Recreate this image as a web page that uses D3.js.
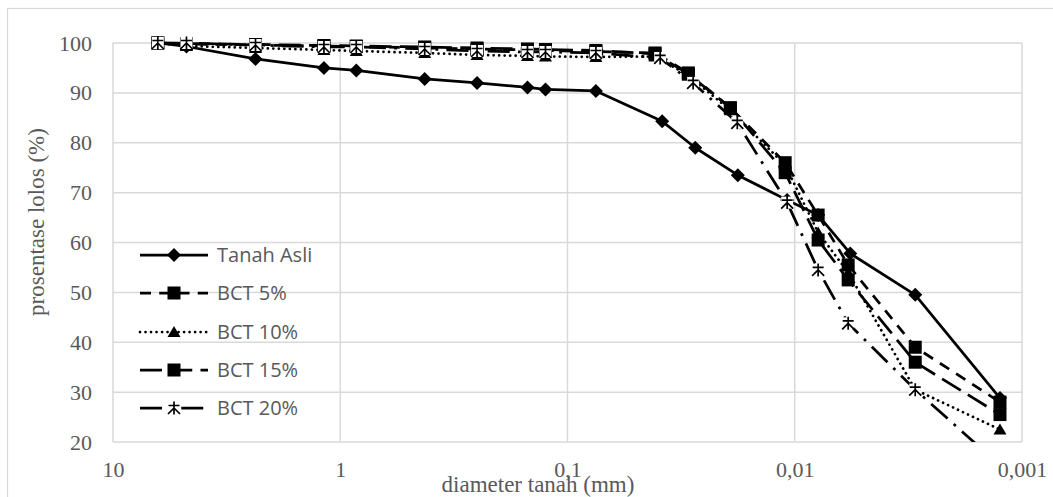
<!DOCTYPE html>
<html><head><meta charset="utf-8">
<script src="https://cdn.jsdelivr.net/npm/d3@7"></script>
<style>html,body{margin:0;padding:0;background:#fff;} svg{display:block}</style>
</head><body>
<svg id="chart" width="1053" height="497"></svg>
<script>
// ---------- DATA ----------
const sieveDiam = [6.35, 4.75, 2.36, 1.18, 0.85, 0.425, 0.25, 0.15, 0.125, 0.075];
const tanahAsliHydroDiam = [0.0383, 0.0274, 0.0178, 0.0108, 0.00789, 0.0057, 0.00295, 0.00125];
const bctHydroDiam = [0.0412, 0.0294, 0.0192, 0.01102, 0.00789, 0.00582, 0.00295, 0.00125];
const bct20HydroDiam = [0.0391, 0.0280, 0.0179, 0.0108, 0.00789, 0.00582, 0.00295, 0.00125];

const tanahAsli = [100, 99.3, 96.8, 95, 94.5, 92.8, 92, 91.1, 90.7, 90.4, 84.3, 79, 73.5, 68.5, 65.5, 57.8, 49.5, 28.8];
const bct5  = [100, 99.8, 99.6, 99.4, 99.3, 99.0, 98.8, 98.6, 98.5, 98.3, 98, 94, 87, 76, 65.5, 55.5, 39, 28];
const bct10 = [100, 99.4, 99.0, 98.6, 98.4, 98.0, 97.6, 97.4, 97.3, 97.2, 97.3, 93.5, 86.5, 75.5, 62, 54, 30.5, 22.5];
const bct15 = [100, 99.9, 99.7, 99.5, 99.4, 99.2, 99.0, 98.8, 98.7, 98.5, 97.8, 93.8, 87, 74, 60.5, 52.5, 36, 25.5];
const bct20 = [100, 100, 99.6, 99.2, 99.2, 98.8, 98.4, 98.2, 98.2, 98.0, 97, 92, 84, 68, 54.5, 43.8, 30.5, 15.3];

const seriesNames = ["Tanah Asli", "BCT 5%", "BCT 10%", "BCT 15%", "BCT 20%"];
const yTicks = [20, 30, 40, 50, 60, 70, 80, 90, 100];
const xTicks = [10, 1, 0.1, 0.01, 0.001];
const xTickLabels = ["10", "1", "0,1", "0,01", "0,001"];
const xTitle = "diameter tanah (mm)";
const yTitle = "prosentase lolos (%)";

// ---------- BUILD ----------
(function () {
const lw = 2.75;
const styles = [
  {marker: "diamond", dash: null},
  {marker: "square", dash: `${4*lw},${3*lw}`},
  {marker: "triangle", dash: `0.01,${2*lw}`, cap: "round"},
  {marker: "square", dash: `${8*lw},${3*lw}`},
  {marker: "star", dash: `${8*lw},${3*lw},${lw},${3*lw}`}
];
const seriesValues = [tanahAsli, bct5, bct10, bct15, bct20];
const seriesDiam = [
  sieveDiam.concat(tanahAsliHydroDiam),
  sieveDiam.concat(bctHydroDiam),
  sieveDiam.concat(bctHydroDiam),
  sieveDiam.concat(bctHydroDiam),
  sieveDiam.concat(bct20HydroDiam)
];
const series = seriesNames.map((name, i) => ({
  name, style: styles[i],
  points: seriesValues[i].map((v, j) => ({d: seriesDiam[i][j], v}))
}));

const svg = d3.select("#chart");
const pLeft = 113, pRight = 1022, pTop = 43, pBottom = 442;
const x = d3.scaleLog().domain([10, 0.001]).range([pLeft, pRight]);
const y = d3.scaleLinear().domain([20, 100]).range([pBottom, pTop]);

// outer chart border
svg.append("rect").attr("x", 7.5).attr("y", 8.5).attr("width", 1100).attr("height", 600)
  .attr("fill", "none").attr("stroke", "#d9d9d9").attr("stroke-width", 1.3);

// gridlines
const grid = svg.append("g");
grid.selectAll("line.h").data(yTicks).join("line").attr("class", "h")
  .attr("x1", pLeft).attr("x2", pRight).attr("y1", d => y(d)).attr("y2", d => y(d))
  .attr("stroke", "#d9d9d9").attr("stroke-width", 1.5);
grid.selectAll("line.v").data(xTicks).join("line").attr("class", "v")
  .attr("y1", pTop).attr("y2", pBottom).attr("x1", d => x(d)).attr("x2", d => x(d))
  .attr("stroke", "#d9d9d9").attr("stroke-width", 1.5);

// axes via d3 axis generators (labels only)
const yAxis = svg.append("g").attr("transform", `translate(${pLeft},0)`)
  .call(d3.axisLeft(y).tickValues(yTicks).tickSize(0).tickPadding(21).tickFormat(d3.format("d")));
const xAxis = svg.append("g").attr("transform", `translate(0,${pBottom})`)
  .call(d3.axisBottom(x).tickValues(xTicks).tickSize(0).tickPadding(21).tickFormat((d, i) => xTickLabels[i]));
[yAxis, xAxis].forEach(a => {
  a.select(".domain").remove();
  a.selectAll("text").attr("font-family", "'Liberation Serif', 'Times New Roman', serif")
    .attr("font-size", 22).attr("fill", "#595959");
});
xAxis.selectAll("text").attr("dy", "0.62em");

// titles
svg.append("text").attr("x", 538).attr("y", 492).attr("text-anchor", "middle")
  .attr("font-family", "'Liberation Serif', serif").attr("font-size", 23).attr("fill", "#595959")
  .text(xTitle);
svg.append("text").attr("transform", "translate(44,222) rotate(-90)").attr("text-anchor", "middle")
  .attr("font-family", "'Liberation Serif', serif").attr("font-size", 23).attr("fill", "#595959")
  .text(yTitle);

// clip
svg.append("clipPath").attr("id", "plotclip").append("rect")
  .attr("x", pLeft).attr("y", pTop - 2).attr("width", pRight - pLeft).attr("height", pBottom - pTop + 2);

const line = d3.line().x(p => x(p.d)).y(p => y(p.v));

function drawMarker(g, type) {
  if (type === "diamond") {
    g.append("path").attr("d", "M0,-7L7,0L0,7L-7,0Z").attr("fill", "#000");
  } else if (type === "square") {
    g.append("rect").attr("x", -6.5).attr("y", -6.5).attr("width", 13).attr("height", 13).attr("fill", "#000");
  } else if (type === "triangle") {
    g.append("path").attr("d", "M0,-6L6.5,5L-6.5,5Z").attr("fill", "#000");
  } else if (type === "star") {
    g.append("rect").attr("x", -6).attr("y", -6).attr("width", 12).attr("height", 12)
      .attr("fill", "#fff");
    g.append("path").attr("d", "M0,-6.5V6.5M-5.5,-2.5H5.5M0,0L-6,6M0,0L6,6")
      .attr("fill", "none").attr("stroke", "#000").attr("stroke-width", 1.7);
  }
}

const plot = svg.append("g");
series.forEach(s => {
  plot.append("path").datum(s.points).attr("clip-path", "url(#plotclip)")
    .attr("d", line).attr("fill", "none").attr("stroke", "#000").attr("stroke-width", lw)
    .attr("stroke-dasharray", s.style.dash).attr("stroke-linecap", s.style.cap || "butt")
    .attr("stroke-linejoin", "round");
  s.points.filter(p => p.v >= 20).forEach(p => {
    const g = plot.append("g").attr("transform", `translate(${x(p.d)},${y(p.v)})`);
    drawMarker(g, s.style.marker);
  });
});

// legend
const legendY = [255, 293, 332, 370, 408];
const leg = svg.append("g");
series.forEach((s, i) => {
  const ly = legendY[i];
  leg.append("line").attr("x1", 140).attr("x2", 208).attr("y1", ly).attr("y2", ly)
    .attr("stroke", "#000").attr("stroke-width", lw)
    .attr("stroke-dasharray", s.style.dash).attr("stroke-linecap", s.style.cap || "butt");
  const g = leg.append("g").attr("transform", `translate(174,${ly})`);
  drawMarker(g, s.style.marker);
  leg.append("text").attr("x", 217).attr("y", ly).attr("dy", "0.36em")
    .attr("font-family", "'Open Sans', sans-serif").attr("font-size", 20).attr("fill", "#595959")
    .text(s.name);
});
})();
</script>
</body></html>
